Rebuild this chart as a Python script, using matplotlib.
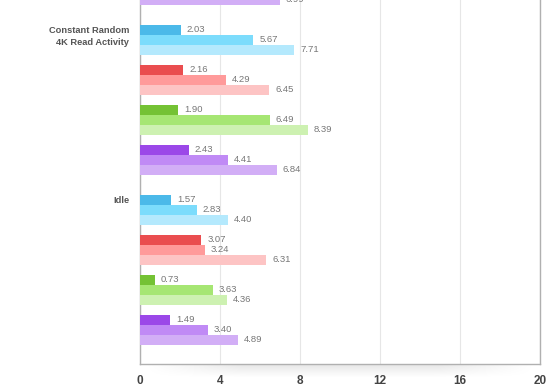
import matplotlib
matplotlib.use("Agg")
import matplotlib.pyplot as plt
import matplotlib.transforms as mtransforms
import numpy as np

plt.rcParams['font.family'] = ['Liberation Sans', 'DejaVu Sans']

# groups shown in the crop (top group is cut off, only its last bar shows)
groups = ["Constant Random\n4K Read Activity", "Idle"]
# per group: 4 colour sets x 3 bars (dark, medium, light)
values = {
    "Constant Random\n4K Read Activity": [[2.03, 5.67, 7.71],
                                         [2.16, 4.29, 6.45],
                                         [1.90, 6.49, 8.39],
                                         [2.43, 4.41, 6.84]],
    "Idle": [[1.57, 2.83, 4.40],
             [3.07, 3.24, 6.31],
             [0.73, 3.63, 4.36],
             [1.49, 3.40, 4.89]],
}
prev_tail = 6.99  # last bar of the group above, mostly cut off

palette = [["#4bb9e9", "#7cdcfc", "#b4e9fd"],
           ["#ea4d4f", "#ff9a9a", "#fdc4c4"],
           ["#74c234", "#a6e673", "#cdf1b1"],
           ["#9b48e8", "#c08af5", "#d2aef6"]]

xticks = [0, 4, 8, 12, 16, 20]

fig = plt.figure(figsize=(5.6, 3.9), dpi=100)

# soft shadow under the plot box
shadow = fig.add_axes([140 / 560, 1 - 378 / 390, 400 / 560, 14 / 390])
grad = np.linspace(0.10, 0.0, 20)[:, None] * np.ones((1, 50))
edge = np.minimum(1, np.linspace(0, 1, 50) * 4) * np.minimum(1, np.linspace(1, 0, 50) * 4)
shadow.imshow(np.dstack([np.zeros_like(grad)] * 3 + [grad * edge]), aspect="auto",
              extent=[0, 1, 0, 1], interpolation="bilinear")
shadow.axis("off")

ax = fig.add_axes([140 / 560, 1 - 364 / 390, 400 / 560, 364 / 390])
ax.set_facecolor("white")

group_pitch, sub_pitch = 17, 4
first = 3.0

offset = ax.transData + mtransforms.ScaledTranslation(6 / 100, 0, fig.dpi_scale_trans)

def add_label(x, y, v):
    ax.text(x, y - 0.05, f"{v:.2f}", transform=offset, ha="left", va="center",
            fontsize=6.8, color="#777777", clip_on=False)

# tail of the previous group
ax.barh(first - group_pitch + 3 * sub_pitch + 2, prev_tail, height=1.0,
        color=palette[3][2], zorder=3)
add_label(prev_tail, first - group_pitch + 3 * sub_pitch + 2, prev_tail)

for g, name in enumerate(groups):
    y0 = first + g * group_pitch
    for s, trio in enumerate(values[name]):
        for k, v in enumerate(trio):
            y = y0 + s * sub_pitch + k
            ax.barh(y, v, height=1.0, color=palette[s][k], zorder=3)
            add_label(v, y, v)
    ax.text(-0.0275, y0 - 0.45, name,
            transform=mtransforms.blended_transform_factory(ax.transAxes, ax.transData),
            ha="right", va="top", fontsize=6.7, fontweight="bold", color="#555555",
            linespacing=1.5)

ax.set_xlim(0, 20)
ax.set_ylim(36.4, 0)
ax.set_xticks(xticks)
ax.set_xticklabels([str(t) for t in xticks], fontsize=8.5, color="#444444", fontweight="bold")
ax.set_yticks([])
ax.tick_params(axis="x", length=0, pad=8)
ax.grid(axis="x", color="#e6e6e6", linewidth=0.8, zorder=0)
for side in ["left", "right", "bottom"]:
    ax.spines[side].set_color("#b0b0b0")
    ax.spines[side].set_linewidth(1.0)
ax.spines["top"].set_visible(False)

fig.savefig("out.png", dpi=100)
